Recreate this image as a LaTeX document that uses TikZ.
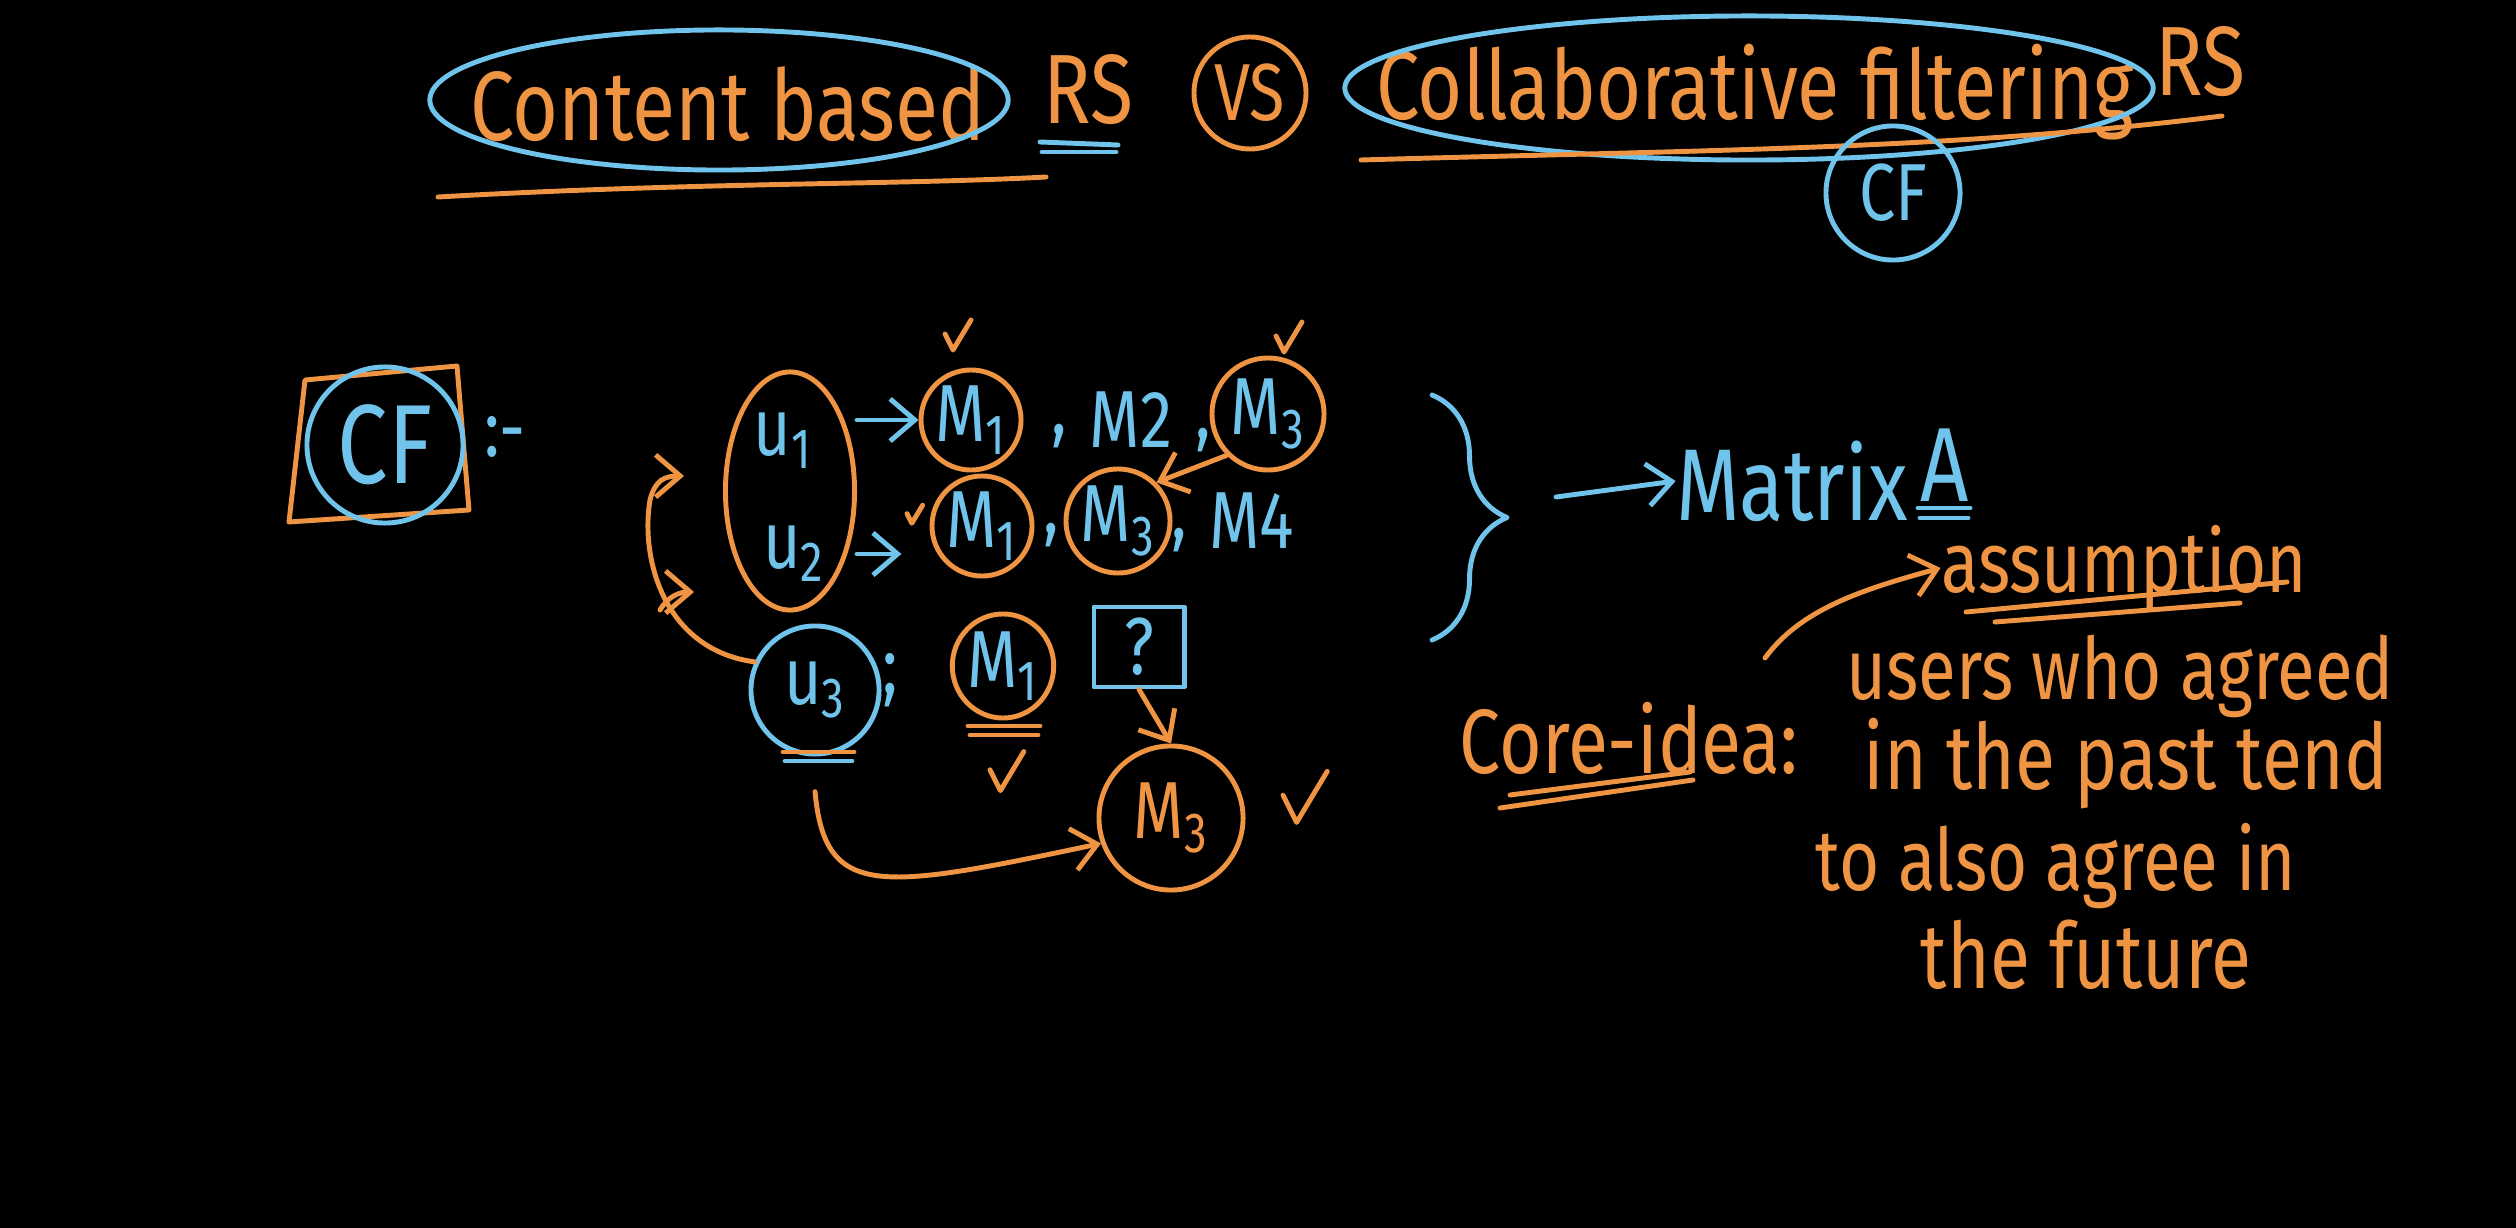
\documentclass[tikz,border=0pt]{standalone}
\usepackage{fontspec}
\setmainfont{Fira Sans}[FakeStretch=0.8]
\usetikzlibrary{arrows.meta,shapes.geometric,decorations.pathreplacing}

\definecolor{chalkorange}{RGB}{238,148,66}
\definecolor{chalkblue}{RGB}{112,196,236}

\tikzset{
  ink/.style={line width=1.4pt, line cap=round, line join=round},
  hand/.style={inner sep=0pt, font=\fontsize{23}{27}\selectfont},
  big/.style={inner sep=0pt, font=\fontsize{26}{30}\selectfont},
  note/.style={inner sep=0pt, text=chalkorange, font=\fontsize{24.5}{28}\selectfont},
  barb/.style={-{Straight Barb[length=7pt,width=12pt]}},
  ring/.style={ink, circle, inner sep=0pt},
}

\begin{document}
\begin{tikzpicture}[x=0.01cm, y=-0.01cm]

  % blackboard
  \fill[black] (0,0) rectangle (2516,1228);

  % title: content based vs collaborative filtering
  \node[big, text=chalkorange, font=\fontsize{28}{32}\selectfont] (cbased) at (728,104) {Content based};
  \draw[ink, chalkblue] (719,100) ellipse [x radius=2.89cm, y radius=0.70cm];
  \node[big, text=chalkorange, font=\fontsize{28}{32}\selectfont] (rs1) at (1088,90) {RS};
  \draw[ink, chalkblue] (1040,142) -- (1118,145);
  \draw[ink, chalkblue] (1042,152) -- (1116,152);
  \draw[ink, chalkorange] (438,197) .. controls (700,182) and (900,185) .. (1046,177);

  \node[ring, draw=chalkorange, text=chalkorange, hand, minimum size=1.12cm] (vs) at (1250,93) {VS};

  \node[big, text=chalkorange, font=\fontsize{27.5}{32}\selectfont] (cfilt) at (1755,92) {Collaborative filtering};
  \draw[ink, chalkblue] (1749,88) ellipse [x radius=4.04cm, y radius=0.72cm];
  \node[big, text=chalkorange, font=\fontsize{28}{32}\selectfont] (rs2) at (2200,62) {RS};
  \draw[ink, chalkorange] (1361,160) .. controls (1700,150) and (1950,150) .. (2222,116);
  \node[ring, draw=chalkblue, text=chalkblue, hand, minimum size=1.34cm] (cfsmall) at (1893,193) {CF};

  % CF heading on the left
  \draw[ink, chalkorange] (305,380) -- (457,366) -- (469,510) -- (289,522) -- cycle;
  \node[ring, draw=chalkblue, text=chalkblue, font=\fontsize{32}{36}\selectfont, minimum size=1.56cm] (cf) at (385,445) {CF};
  \node[hand, text=chalkblue] (colon) at (505,437) {:-};

  % users
  \node[ink, ellipse, draw=chalkorange, minimum width=1.29cm, minimum height=2.38cm] (uu) at (790,491) {};
  \node[hand, text=chalkblue] (u1) at (783,441) {u\textsubscript{1}};
  \node[hand, text=chalkblue] (u2) at (794,554) {u\textsubscript{2}};
  \node[ring, draw=chalkblue, text=chalkblue, hand, minimum size=1.28cm] (u3) at (815,690) {u\textsubscript{3}};
  \node[hand, text=chalkblue] (semi) at (890,680) {;};
  \draw[ink, chalkorange] (783,752) -- (854,752);
  \draw[ink, chalkblue] (785,761) -- (852,761);

  % movies, row 1
  \node[ring, draw=chalkorange, text=chalkblue, hand, minimum size=1.0cm] (m11) at (971,420) {M\textsubscript{1}};
  \node[hand, text=chalkblue] (c11) at (1059,436) {,};
  \node[hand, text=chalkblue] (m12) at (1131,420) {M2};
  \node[hand, text=chalkblue] (c12) at (1203,440) {,};
  \node[ring, draw=chalkorange, text=chalkblue, hand, minimum size=1.12cm] (m13) at (1268,414) {M\textsubscript{3}};

  % movies, row 2
  \node[ring, draw=chalkorange, text=chalkblue, hand, minimum size=1.0cm] (m21) at (982,526) {M\textsubscript{1}};
  \node[hand, text=chalkblue] (c21) at (1051,535) {,};
  \node[ring, draw=chalkorange, text=chalkblue, hand, minimum size=1.04cm] (m23) at (1118,521) {M\textsubscript{3}};
  \node[hand, text=chalkblue] (c23) at (1179,540) {,};
  \node[hand, text=chalkblue] (m24) at (1252,521) {M4};

  % movies, row 3
  \node[ink, ellipse, draw=chalkorange, text=chalkblue, hand, minimum width=0.88cm, minimum height=1.04cm] (m31) at (1003,666) {M\textsubscript{1}};
  \draw[ink, chalkorange] (968,726) -- (1040,726);
  \draw[ink, chalkorange] (970,735) -- (1038,735);
  \node[ink, draw=chalkblue, text=chalkblue, hand, minimum width=0.9cm, minimum height=0.8cm] (q) at (1139,647) {?};
  \node[ring, draw=chalkorange, text=chalkorange, hand, minimum size=1.44cm] (m3big) at (1171,818) {M\textsubscript{3}};

  % ticks
  \foreach \x/\y/\k in {955/338/1, 1286/340/1, 913/516/0.6, 1003/775/1.3, 1300/802/1.7}
    \draw[ink, chalkorange] (\x,\y) ++(-10*\k,-4*\k) -- ++(8*\k,16*\k) -- ++(18*\k,-30*\k);

  % arrows between users and movies
  \draw[ink, chalkblue, barb] (uu.east |- m11) -- (m11.west);
  \draw[ink, chalkblue, barb] (uu.east |- u2) -- ([xshift=-8pt]m21.west |- u2);
  \draw[ink, chalkorange, barb] (m13.225) -- (m23.45);
  \draw[ink, chalkorange, barb] (q.south) -- (m3big.north);
  \draw[ink, chalkorange, barb] ([yshift=-10pt]u3.south) .. controls (825,900) and (880,890) .. (m3big.200);

  % u3 is like u1 and u2
  \coordinate (hooktop) at (684,476);
  \coordinate (hookmid) at (694,592);
  \draw[ink, chalkorange, barb] (u3.155) .. controls (665,650) and (640,560) .. (650,500)
    .. controls (655,480) and (665,476) .. (hooktop);
  \draw[ink, chalkorange, barb] (660,610) .. controls (668,596) and (680,592) .. (hookmid);

  % everything goes into a matrix
  \draw[ink, chalkblue, decorate, decoration={brace, amplitude=0.75cm}] (1432,395) -- (1432,640);
  \coordinate (btip) at (1556,497);
  \node[big, text=chalkblue, font=\fontsize{29}{34}\selectfont] (mat) at (1792,481) {Matrix};
  \node[big, text=chalkblue, font=\fontsize{30}{34}\selectfont] (amat) at (1945,465) {A};
  \draw[ink, chalkblue, barb] (btip) -- (mat.west);
  \draw[ink, chalkblue] (1918,508) -- (1970,508);
  \draw[ink, chalkblue] (1920,518) -- (1968,518);

  % core idea and assumption
  \node[note] (assum) at (2124,568) {assumption};
  \draw[ink, chalkorange] (1966,612) -- (2287,582);
  \draw[ink, chalkorange] (1995,622) -- (2240,603);
  \node[big, text=chalkorange] (core) at (1629,738) {Core-idea:};
  \draw[ink, chalkorange] (1500,808) -- (1693,780);
  \draw[ink, chalkorange] (1510,795) -- (1690,772);
  \coordinate (cstart) at (1765,658);
  \draw[ink, chalkorange, barb] (cstart) .. controls (1800,610) and (1860,590) .. (assum.west);

  \node[note] (l1) at (2120,676) {users who agreed};
  \node[note, font=\fontsize{26}{30}\selectfont] (l2) at (2126,764) {in the past tend};
  \node[note] (l3) at (2056,866) {to also agree in};
  \node[note, font=\fontsize{26}{30}\selectfont] (l4) at (2086,955) {the future};

\end{tikzpicture}
\end{document}
